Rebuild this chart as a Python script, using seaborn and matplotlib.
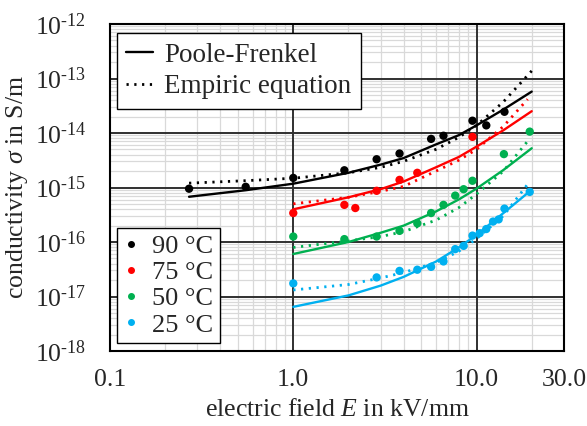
import numpy as np
import pandas as pd
import matplotlib
matplotlib.use("Agg")
import matplotlib.pyplot as plt
from matplotlib.lines import Line2D
from matplotlib.ticker import FixedLocator, NullFormatter, FixedFormatter, LogLocator
import seaborn as sns

temps = ["90 °C", "75 °C", "50 °C", "25 °C"]
colors = ["#000000", "#FF0000", "#00B050", "#00B0F0"]

# measured points: field E in kV/mm, conductivity in S/m
E_90 = [0.27, 0.55, 1.0, 1.9, 2.85, 3.8, 5.65, 6.6, 9.5, 11.3, 14.2]
s_90 = [9.5e-16, 1.03e-15, 1.5e-15, 2.07e-15, 3.3e-15, 4.2e-15, 7.8e-15, 8.9e-15, 1.68e-14, 1.38e-14, 2.45e-14]
E_75 = [1.0, 1.9, 2.18, 2.85, 3.8, 4.75, 9.5]
s_75 = [3.4e-16, 4.8e-16, 4.2e-16, 8.7e-16, 1.38e-15, 1.86e-15, 8.5e-15]
E_50 = [1.0, 1.9, 2.85, 3.8, 4.75, 5.65, 6.6, 7.65, 8.5, 9.5, 14.1, 19.5]
s_50 = [1.26e-16, 1.13e-16, 1.26e-16, 1.6e-16, 2.2e-16, 3.4e-16, 4.8e-16, 7.1e-16, 9.3e-16, 1.33e-15, 4.1e-15, 1.06e-14]
E_25 = [1.0, 2.85, 3.8, 4.75, 5.65, 6.6, 7.65, 8.5, 9.5, 10.4, 11.3, 12.3, 13.2, 14.2, 19.5]
s_25 = [1.74e-17, 2.24e-17, 2.95e-17, 3.1e-17, 3.5e-17, 4.4e-17, 7.4e-17, 8.5e-17, 1.31e-16, 1.45e-16,
        1.73e-16, 2.37e-16, 2.6e-16, 4.1e-16, 8.3e-16]

# fitted curves as log10(sigma)
Ef_90 = [0.27, 0.55, 1.0, 2.0, 3.0, 4.0, 6.0, 8.0, 10.0, 14.0, 20.0]
pf_90 = [-15.17, -15.05, -14.93, -14.73, -14.58, -14.46, -14.21, -14.04, -13.86, -13.57, -13.24]
em_90 = [-14.92, -14.875, -14.83, -14.73, -14.63, -14.52, -14.30, -14.08, -13.86, -13.43, -12.86]
Ef = [1.0, 2.0, 3.0, 4.0, 6.0, 8.0, 10.0, 14.0, 20.0]
Ef_em = [1.0, 2.0, 3.0, 4.0, 6.0, 8.0, 10.0, 14.0, 19.0]
pf_75 = [-15.40, -15.18, -15.03, -14.89, -14.63, -14.44, -14.25, -13.95, -13.60]
em_75 = [-15.30, -15.18, -15.07, -14.98, -14.70, -14.50, -14.30, -13.88, -13.38]
pf_50 = [-16.22, -16.00, -15.83, -15.70, -15.44, -15.22, -15.02, -14.68, -14.28]
em_50 = [-16.10, -15.98, -15.90, -15.81, -15.60, -15.37, -15.12, -14.70, -14.15]
pf_25 = [-17.19, -16.98, -16.80, -16.64, -16.36, -16.10, -15.87, -15.47, -15.04]
em_25 = [-16.88, -16.78, -16.66, -16.56, -16.38, -16.17, -15.94, -15.52, -14.94]

points = pd.concat([
    pd.DataFrame({"E": e, "sigma": s, "T": t})
    for e, s, t in zip([E_90, E_75, E_50, E_25], [s_90, s_75, s_50, s_25], temps)
])
curves = []
for t, ep, pf, ee, em in zip(temps, [Ef_90, Ef, Ef, Ef], [pf_90, pf_75, pf_50, pf_25],
                             [Ef_90, Ef_em, Ef_em, Ef_em], [em_90, em_75, em_50, em_25]):
    curves.append(pd.DataFrame({"E": ep, "sigma": 10.0 ** np.array(pf), "T": t, "model": "pf"}))
    curves.append(pd.DataFrame({"E": ee, "sigma": 10.0 ** np.array(em), "T": t, "model": "em"}))
curves = pd.concat(curves)

x_ticks = [0.1, 1, 10, 30]
x_labels = ["0.1", "1.0", "10.0", "30.0"]
y_exp = list(range(-18, -11))

sns.set_style("white")
plt.rcParams["font.family"] = ["Liberation Serif", "DejaVu Serif"]
plt.rcParams["mathtext.fontset"] = "custom"
plt.rcParams["mathtext.rm"] = "Liberation Serif"
plt.rcParams["mathtext.it"] = "Liberation Serif:italic"

fig = plt.figure(figsize=(5.87, 4.26), dpi=100)
ax = fig.add_axes([110 / 587, 1 - 351 / 426, 454 / 587, 327 / 426])
ax.set_xscale("log")
ax.set_yscale("log")

pal = dict(zip(temps, colors))
dots = (0, (0.8, 2.0))
for (t, m), d in curves.groupby(["T", "model"], sort=False):
    ls = "-" if m == "pf" else dots
    lw = 1.7 if m == "pf" else 2.0
    sns.lineplot(data=d, x="E", y="sigma", color=pal[t], linestyle=ls, linewidth=lw,
                 estimator=None, sort=False, ax=ax, legend=False, zorder=3)
sns.scatterplot(data=points, x="E", y="sigma", hue="T", palette=pal, s=36,
                edgecolor="none", ax=ax, legend=False, zorder=4)

ax.set_xlim(0.1, 30)
ax.set_ylim(1e-18, 1e-12)
ax.xaxis.set_major_locator(FixedLocator(x_ticks))
ax.xaxis.set_major_formatter(FixedFormatter(x_labels))
ax.xaxis.set_minor_locator(LogLocator(base=10, subs=np.arange(2, 10), numticks=20))
ax.xaxis.set_minor_formatter(NullFormatter())
ax.yaxis.set_major_locator(FixedLocator([10.0 ** k for k in y_exp]))
ax.yaxis.set_major_formatter(FixedFormatter(["$10^{\u2010%d}$" % -k for k in y_exp]))
ax.yaxis.set_minor_locator(LogLocator(base=10, subs=np.arange(2, 10), numticks=20))
ax.yaxis.set_minor_formatter(NullFormatter())

# light minor grid under dark decade lines
ax.set_axisbelow(True)
ax.grid(which="minor", color="#d9d9d9", linewidth=0.9)
ax.grid(which="major", visible=False)
for xv in x_ticks[1:3]:
    ax.axvline(xv, color="#303030", linewidth=1.4, zorder=1)
for k in y_exp[1:-1]:
    ax.axhline(10.0 ** k, color="#303030", linewidth=1.4, zorder=1)

for sp in ax.spines.values():
    sp.set_color("black")
    sp.set_linewidth(1.5)
ax.tick_params(which="major", direction="inout", length=10, width=1.3, labelsize=18.5, color="black")
ax.tick_params(axis="x", which="major", pad=8)
ax.tick_params(axis="y", which="major", pad=12)
ax.tick_params(which="minor", length=0)

ax.set_xlabel(r"electric field $E$ in kV/mm", fontsize=18.5, labelpad=6)
ax.set_ylabel(r"conductivity $\sigma$ in S/m", fontsize=18.5, labelpad=3)

h1 = [Line2D([], [], color="black", lw=1.7),
      Line2D([], [], color="black", lw=2.0, linestyle=dots)]
leg1 = ax.legend(h1, ["Poole-Frenkel", "Empiric equation"], loc="upper left",
                 bbox_to_anchor=(0.015, 0.972), borderaxespad=0, fontsize=19.5, fancybox=False,
                 edgecolor="black", framealpha=1, handlelength=1.0, handletextpad=0.4,
                 labelspacing=0.25, borderpad=0.35)
leg1.get_frame().set_linewidth(1.0)
ax.add_artist(leg1)

h2 = [Line2D([], [], color=c, marker="o", linestyle="none", markersize=4) for c in colors]
leg2 = ax.legend(h2, temps, loc="lower left", bbox_to_anchor=(0.015, 0.024), borderaxespad=0,
                 fontsize=19, fancybox=False, edgecolor="black", framealpha=1,
                 handlelength=0.6, handletextpad=0.5, labelspacing=0.1, borderpad=0.25)
leg2.get_frame().set_linewidth(1.0)

fig.savefig("out.png", dpi=100)
